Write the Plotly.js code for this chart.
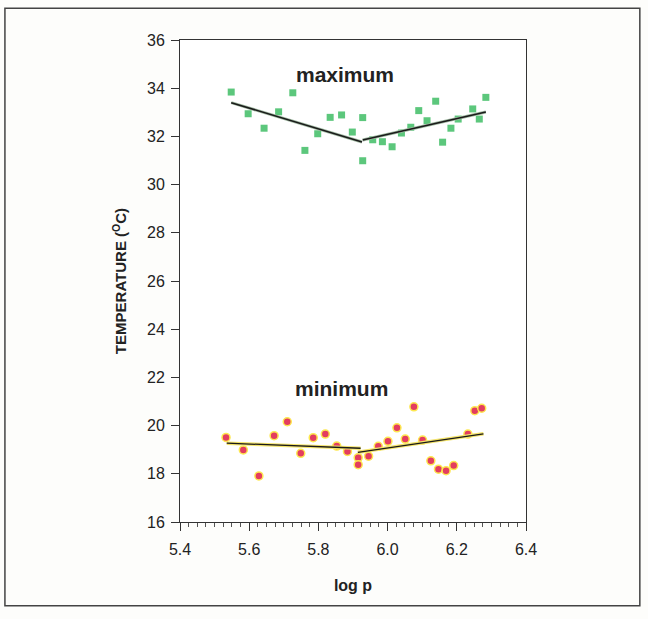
<!DOCTYPE html>
<html>
<head>
<meta charset="utf-8">
<script src="https://cdn.plot.ly/plotly-3.0.1.min.js"></script>
<style>
html,body{margin:0;padding:0;background:#fdfdfb;}
#chart{width:648px;height:619px;}
</style>
</head>
<body>
<div id="chart"></div>
<script>
// Maximum temperature (green squares)
const maxX = [5.548,5.597,5.643,5.685,5.726,5.761,5.798,5.834,5.867,5.898,5.928,5.928,5.957,5.985,6.013,6.040,6.067,6.090,6.114,6.139,6.159,6.183,6.204,6.246,6.265,6.284];
const maxY = [33.84,32.94,32.34,33.02,33.81,31.42,32.11,32.79,32.89,32.18,32.78,30.99,31.86,31.78,31.57,32.14,32.38,33.07,32.65,33.46,31.76,32.34,32.72,33.14,32.72,33.62];
// Minimum temperature (red circles)
const minX = [5.533,5.583,5.628,5.672,5.710,5.749,5.785,5.820,5.853,5.884,5.915,5.915,5.945,5.973,6.001,6.027,6.051,6.076,6.101,6.125,6.147,6.169,6.191,6.232,6.252,6.272];
const minY = [19.51,18.99,17.91,19.58,20.16,18.85,19.50,19.65,19.15,18.93,18.67,18.38,18.73,19.14,19.35,19.91,19.44,20.78,19.40,18.54,18.19,18.13,18.34,19.65,20.62,20.72];
// Fitted segments
const maxFitLeftX = [5.548, 5.926], maxFitLeftY = [33.40, 31.77];
const maxFitRightX = [5.928, 6.284], maxFitRightY = [31.85, 33.01];
const minFitLeftX = [5.535, 5.922], minFitLeftY = [19.27, 19.06];
const minFitRightX = [5.914, 6.277], minFitRightY = [18.89, 19.66];
// Ticks
const xTicks = [5.4,5.6,5.8,6.0,6.2,6.4];
const xTickText = ['5.4','5.6','5.8','6.0','6.2','6.4'];
const yTicks = [16,18,20,22,24,26,28,30,32,34,36];

const FONT = 'Arial, "Liberation Sans", sans-serif';

function seg(x, y, color, w) {
  return {x: x, y: y, mode: 'lines', type: 'scatter', line: {color: color, width: w}, hoverinfo: 'skip', showlegend: false};
}

const data = [
  {x: maxX, y: maxY, mode: 'markers', type: 'scatter', showlegend: false,
   marker: {symbol: 'square', size: 7, color: '#5cc77c', line: {width: 0}}},
  {x: minX, y: minY, mode: 'markers', type: 'scatter', showlegend: false,
   marker: {symbol: 'circle', size: 8, color: '#e33d5f', line: {color: '#fde84f', width: 1.5}}},
  seg(maxFitLeftX, maxFitLeftY, '#9fb8a0', 3),
  seg(maxFitRightX, maxFitRightY, '#9fb8a0', 3),
  seg(minFitLeftX, minFitLeftY, '#f3e36a', 3.5),
  seg(minFitRightX, minFitRightY, '#f3e36a', 3.5),
  seg(maxFitLeftX, maxFitLeftY, '#1a1a1a', 1.5),
  seg(maxFitRightX, maxFitRightY, '#1a1a1a', 1.5),
  seg(minFitLeftX, minFitLeftY, '#1a1a1a', 1.3),
  seg(minFitRightX, minFitRightY, '#1a1a1a', 1.3)
];

const layout = {
  width: 648, height: 619,
  margin: {l: 180, r: 122, t: 40, b: 97},
  paper_bgcolor: '#fdfdfb',
  plot_bgcolor: '#ffffff',
  showlegend: false,
  font: {family: FONT, color: '#222'},
  xaxis: {
    range: [5.4, 6.4], tickvals: xTicks, ticktext: xTickText,
    ticks: 'outside', ticklen: 8, tickwidth: 1, tickcolor: '#333',
    showline: true, linecolor: '#333', linewidth: 1, mirror: true,
    showgrid: false, zeroline: false, ticklabelstandoff: 5,
    tickfont: {family: FONT, size: 16, color: '#222'},
    minor: {dtick: 0.025, tick0: 5.4, ticks: 'outside', ticklen: 4, tickcolor: '#555', showgrid: false},
    title: {text: '<b>log p</b>', font: {family: FONT, size: 16, color: '#222'}, standoff: 22}
  },
  yaxis: {
    range: [16, 36], tickvals: yTicks,
    ticks: 'outside', ticklen: 8, tickwidth: 1, tickcolor: '#333',
    showline: true, linecolor: '#333', linewidth: 1, mirror: true,
    showgrid: false, zeroline: false, ticklabelstandoff: 3,
    tickfont: {family: FONT, size: 16, color: '#222'},
    title: {text: '<b>TEMPERATURE (<sup>O</sup>C)</b>', font: {family: FONT, size: 15, color: '#222'}, standoff: 16}
  },
  annotations: [
    {x: 5.877, y: 34.55, xref: 'x', yref: 'y', text: '<b>maximum</b>', showarrow: false,
     font: {family: FONT, size: 21, color: '#222'}},
    {x: 5.868, y: 21.56, xref: 'x', yref: 'y', text: '<b>minimum</b>', showarrow: false,
     font: {family: FONT, size: 21, color: '#222'}}
  ],
  shapes: [
    {type: 'rect', xref: 'paper', yref: 'paper', x0: -0.506, x1: 1.329, y0: -0.174, y1: 1.066,
     line: {color: '#444', width: 1.5}, fillcolor: 'rgba(0,0,0,0)', layer: 'below'}
  ]
};

Plotly.newPlot('chart', data, layout, {displayModeBar: false, staticPlot: true});
</script>
</body>
</html>
